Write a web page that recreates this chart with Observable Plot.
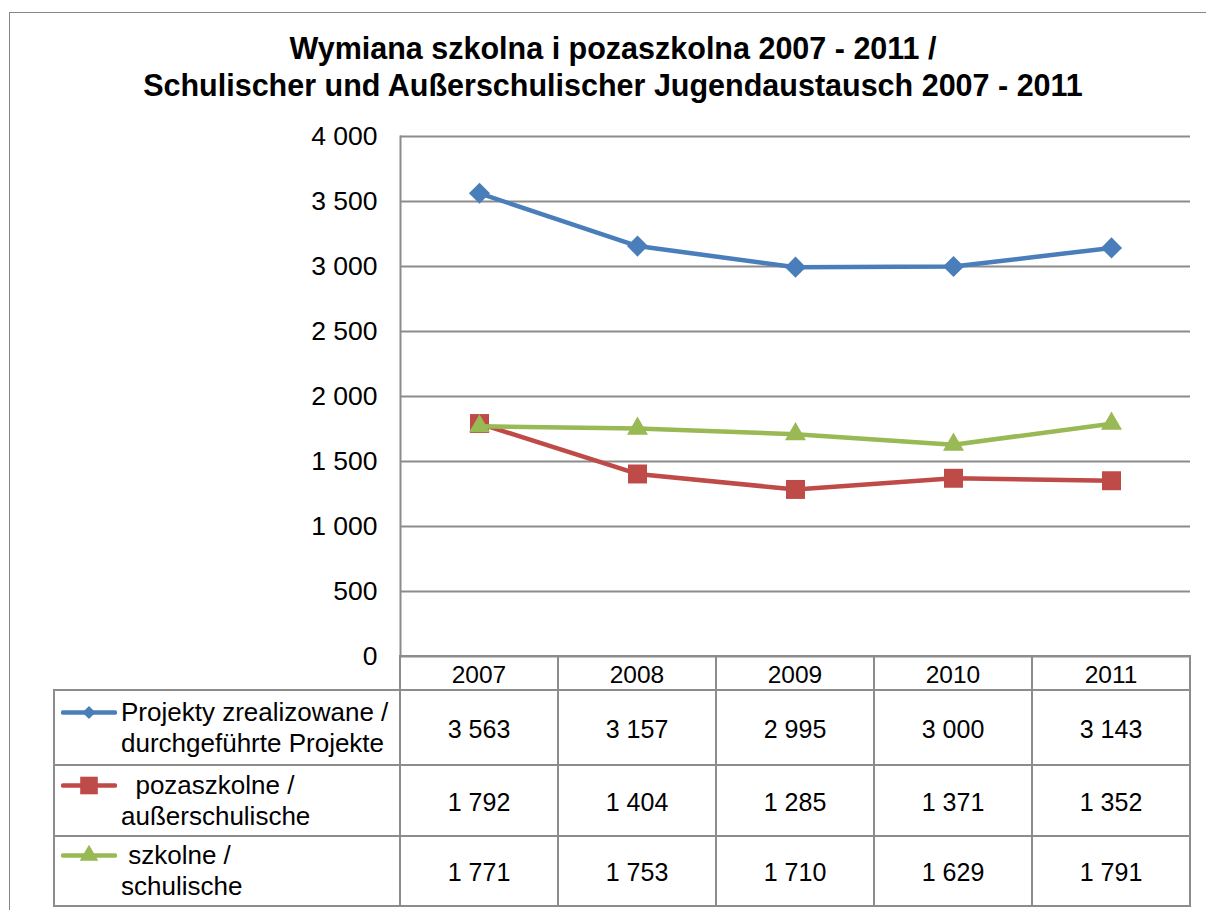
<!DOCTYPE html>
<html><head><meta charset="utf-8">
<script src="https://cdn.jsdelivr.net/npm/d3@7"></script>
<script src="https://cdn.jsdelivr.net/npm/@observablehq/plot@0.6"></script>
<style>
body{margin:0;width:1206px;height:910px;overflow:hidden;background:#fff;font-family:"Liberation Sans",Arial,sans-serif;position:relative;color:#000}
#frame{position:absolute;left:9px;top:12px;width:1400px;height:1200px;border:1.5px solid #868686;box-sizing:border-box}
#chart{position:absolute;left:0;top:0}
#title{position:absolute;left:0;top:30px;width:1226px;text-align:center;font-weight:bold;font-size:30.5px;line-height:36.5px}
#tbl{position:absolute;left:53px;top:655px;border-collapse:collapse;table-layout:fixed;font-size:25px}
#tbl td{border:2px solid #8c8c8c;padding:0;text-align:center;vertical-align:middle}
#tbl tr.hdr td{font-size:24.5px;padding-top:4px}
#tbl td.val{padding-top:3px}
#tbl td.blank{border-top:none;border-left:none}
#tbl td.leg{text-align:left;padding-left:6px;font-size:26px}
.legwrap{display:flex;align-items:flex-start}
.legtext{white-space:pre;line-height:31px;margin-left:4px}
</style></head>
<body>
<div id="frame"></div>
<div id="chart"></div>
<div id="title">Wymiana szkolna i pozaszkolna 2007 - 2011 /<br>Schulischer und Außerschulischer Jugendaustausch 2007 - 2011</div>
<table id="tbl"></table>
<script>
const years = [2007, 2008, 2009, 2010, 2011];
const seriesKeys = ["projekty", "pozaszkolne", "szkolne"];
const projekty = [3563, 3157, 2995, 3000, 3143];
const pozaszkolne = [1792, 1404, 1285, 1371, 1352];
const szkolne = [1771, 1753, 1710, 1629, 1791];
const seriesLabels = [
  ["Projekty zrealizowane /", "durchgeführte Projekte"],
  ["  pozaszkolne /", "außerschulische"],
  [" szkolne /", "schulische"]
];
const seriesColors = ["#4a7ebb", "#be4b48", "#98b954"];
const seriesSymbols = ["diamond2", "square", "triangle"];
const yTicks = [0, 500, 1000, 1500, 2000, 2500, 3000, 3500, 4000];

const valuesBySeries = [projekty, pozaszkolne, szkolne];
const fmt = d3.formatLocale({decimal: ",", thousands: " ", grouping: [3], currency: ["", ""]}).format(",");

const rows = [];
seriesKeys.forEach((k, i) => years.forEach((yr, j) => rows.push({series: k, year: String(yr), value: valuesBySeries[i][j]})));

const markerR = {diamond2: 9.5, square: 10.7, triangle: 7.8};
const marks = [
  Plot.gridY(yTicks, {stroke: "#8c8c8c", strokeOpacity: 1, strokeWidth: 2}),
  Plot.frame({anchor: "left", stroke: "#8c8c8c", strokeWidth: 2}),
  Plot.axisY(yTicks, {tickSize: 0, tickPadding: 23, tickFormat: fmt, fontSize: 26.5, fill: "#000", label: null})
];
seriesKeys.forEach((k, i) => {
  const d = rows.filter(r => r.series === k);
  marks.push(Plot.line(d, {x: "year", y: "value", stroke: seriesColors[i], strokeWidth: 4.5, strokeLinejoin: "round"}));
  marks.push(Plot.dot(d, {x: "year", y: "value", symbol: seriesSymbols[i], fill: seriesColors[i], r: markerR[seriesSymbols[i]], stroke: "none"}));
});

const chart = Plot.plot({
  width: 1206, height: 690,
  marginLeft: 400, marginRight: 16, marginTop: 136, marginBottom: 34,
  style: {fontFamily: "Liberation Sans, Arial, sans-serif", fontSize: "26px", background: "transparent", color: "#000"},
  x: {type: "point", domain: years.map(String), padding: 0.5, align: 0.5, axis: null},
  y: {domain: [0, 4000], axis: null},
  marks
});
document.getElementById("chart").append(chart);

// data table (legend + values) below the chart
const tbl = d3.select("#tbl");
const cg = tbl.append("colgroup");
cg.append("col").style("width", "346px");
years.forEach(() => cg.append("col").style("width", "158px"));
const hdr = tbl.append("tr").attr("class", "hdr").style("height", "34px");
hdr.append("td").attr("class", "blank");
years.forEach(y => hdr.append("td").text(String(y)));
const rowHeights = ["75px", "71px", "70px"];
seriesKeys.forEach((k, i) => {
  const tr = tbl.append("tr").style("height", rowHeights[i]);
  const leg = tr.append("td").attr("class", "leg").append("div").attr("class", "legwrap");
  const sym = d3.create("svg").attr("width", 56).attr("height", 31);
  sym.append("line").attr("x1", 2).attr("x2", 54).attr("y1", 15.5).attr("y2", 15.5)
    .attr("stroke", seriesColors[i]).attr("stroke-width", 4.5).attr("stroke-linecap", "round");
  const symSize = {diamond2: 110, square: 310, triangle: 150}[seriesSymbols[i]];
  const symType = {diamond2: d3.symbolDiamond2, square: d3.symbolSquare, triangle: d3.symbolTriangle}[seriesSymbols[i]];
  sym.append("path").attr("transform", "translate(28,15.5)").attr("d", d3.symbol(symType, symSize)()).attr("fill", seriesColors[i]);
  leg.append(() => sym.node());
  leg.append("div").attr("class", "legtext").html(seriesLabels[i].join("\n"));
  valuesBySeries[i].forEach(v => tr.append("td").attr("class", "val").text(fmt(v)));
});
</script>
</body></html>
